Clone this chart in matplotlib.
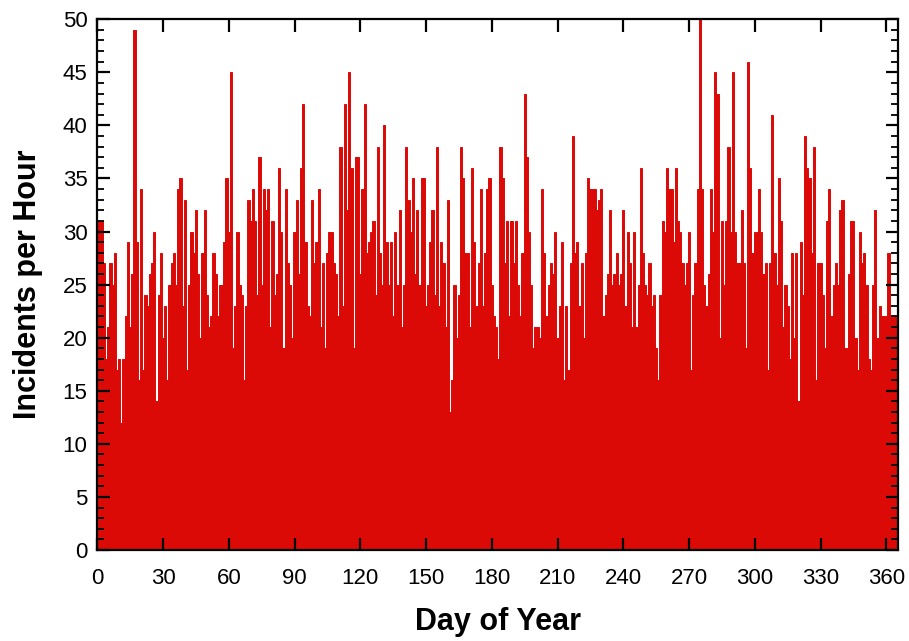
import numpy as np
import matplotlib
matplotlib.use("Agg")
import matplotlib.pyplot as plt
from matplotlib.ticker import MultipleLocator

plt.rcParams['font.family'] = ['Liberation Sans', 'DejaVu Sans']

# incidents per hour, one value per day of year (1..365)
incidents = [
    31, 31, 27, 18, 21, 27, 25, 28, 17, 18,
    12, 18, 22, 29, 21, 26, 49, 29, 16, 34,
    17, 24, 23, 26, 27, 30, 14, 24, 28, 20,
    23, 16, 25, 27, 28, 25, 34, 35, 23, 33,
    17, 25, 30, 28, 32, 26, 20, 28, 32, 24,
    21, 22, 28, 26, 22, 25, 25, 29, 35, 30,
    45, 19, 23, 30, 25, 24, 16, 23, 33, 31,
    34, 31, 24, 37, 25, 34, 32, 34, 21, 31,
    24, 26, 36, 30, 19, 34, 27, 25, 20, 30,
    33, 26, 36, 42, 29, 23, 22, 33, 27, 29,
    34, 21, 27, 19, 28, 30, 30, 27, 26, 22,
    38, 23, 42, 32, 45, 36, 19, 37, 37, 26,
    34, 42, 28, 29, 30, 31, 24, 38, 28, 25,
    40, 29, 25, 29, 22, 30, 25, 32, 21, 25,
    38, 33, 30, 35, 26, 32, 25, 35, 35, 23,
    25, 29, 32, 24, 38, 23, 29, 27, 21, 33,
    13, 16, 25, 20, 24, 38, 35, 28, 28, 21,
    36, 29, 23, 27, 34, 23, 28, 34, 35, 25,
    22, 21, 18, 38, 35, 27, 31, 22, 31, 27,
    31, 25, 22, 28, 43, 37, 30, 25, 19, 21,
    21, 20, 34, 28, 22, 25, 27, 26, 30, 20,
    23, 29, 16, 23, 17, 27, 39, 28, 29, 23,
    27, 20, 28, 35, 34, 34, 34, 32, 33, 34,
    22, 24, 26, 32, 25, 26, 28, 25, 26, 32,
    23, 30, 27, 21, 30, 21, 25, 36, 28, 25,
    24, 27, 23, 24, 19, 16, 24, 31, 30, 36,
    34, 34, 29, 36, 31, 30, 27, 25, 27, 30,
    17, 24, 27, 34, 50, 34, 25, 23, 26, 34,
    30, 45, 43, 20, 31, 25, 31, 38, 30, 45,
    30, 27, 27, 32, 27, 19, 46, 36, 28, 30,
    30, 34, 30, 26, 27, 17, 27, 41, 28, 25,
    35, 31, 21, 25, 23, 18, 28, 20, 28, 14,
    29, 24, 39, 36, 35, 28, 38, 16, 27, 27,
    24, 19, 31, 34, 22, 25, 27, 25, 32, 33,
    19, 19, 26, 31, 31, 20, 17, 30, 27, 28,
    25, 18, 17, 25, 32, 20, 23, 22, 22, 22,
    28, 22, 22, 22, 22,
]
days = np.arange(1, len(incidents) + 1)

xticks = list(range(0, 361, 30))
yticks = list(range(0, 51, 5))

fig = plt.figure(figsize=(9.09, 6.41), dpi=100)
ax = fig.add_axes([0.107, 0.142, 0.881, 0.828])

red = '#dc0a07'
ax.bar(days, incidents, width=1.0, color=red, edgecolor=red, linewidth=0.7)

ax.set_xlim(0, 365.4)
ax.set_ylim(0, 50)
ax.set_xticks(xticks)
ax.set_yticks(yticks)
ax.yaxis.set_minor_locator(MultipleLocator(1))

for s in ax.spines.values():
    s.set_linewidth(1.6)
    s.set_zorder(3)
ax.tick_params(which='major', direction='in', top=True, right=True,
               length=9, width=1.6, labelsize=16, pad=7)
ax.tick_params(which='minor', direction='in', top=True, right=True,
               length=5, width=1.3)
ax.tick_params(axis='x', which='major', pad=13)

ax.set_xlabel('Day of Year', fontsize=22, fontweight='bold', labelpad=13)
ax.set_ylabel('Incidents per Hour', fontsize=22, fontweight='bold', labelpad=14)

plt.savefig('out.png', dpi=100)
